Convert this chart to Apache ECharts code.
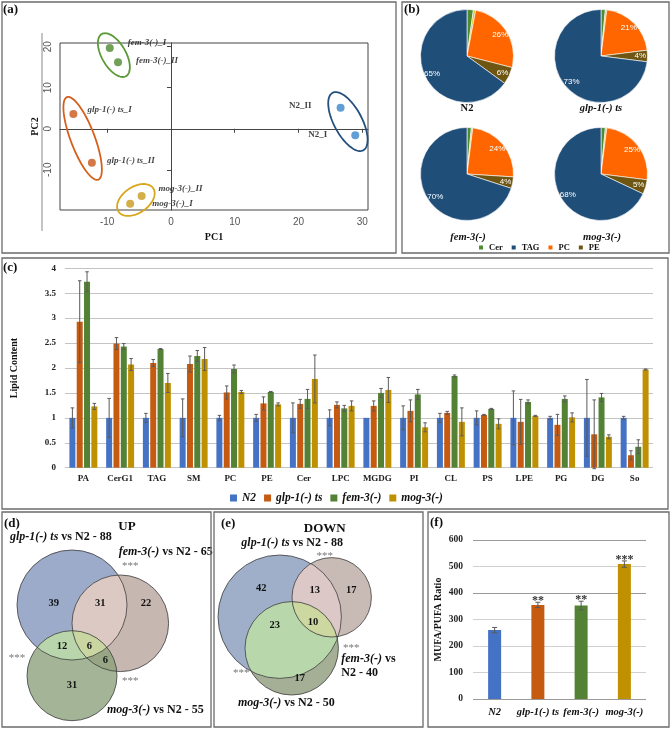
<!DOCTYPE html>
<html><head><meta charset="utf-8">
<script src="https://cdn.jsdelivr.net/npm/echarts@6/dist/echarts.min.js"></script>
<style>html,body{margin:0;padding:0;background:#fff}#c{width:671px;height:729px}</style>
</head><body><div id="c"></div><script>
// ================= DATA =================
// (a) PCA
const pcaNames = ['fem-3(-)_I','fem-3(-)_II','glp-1(-) ts_I','glp-1(-) ts_II','mog-3(-)_II','mog-3(-)_I','N2_II','N2_I'];
const pcaPC1 = [-9.6,-8.3,-15.3,-12.4,-4.6,-6.4,26.6,28.9];
const pcaPC2 = [19.7,16.2,3.6,-8.3,-16.4,-18.3,5.1,-1.6];
const pcaGroup = [0,0,1,1,2,2,3,3]; // fem-3, glp-1, mog-3, N2
const pcaXTicks = [-10,0,10,20,30];
const pcaYTicks = [-10,0,10,20];
// (b) pies
const pieStrains = ['N2','glp-1(-) ts','fem-3(-)','mog-3(-)'];
const pieLegend = ['Cer','TAG','PC','PE'];
const pieCer = [2.2,1.5,1.5,1.5];
const pieOther = [0.8,0.5,0.5,0.5];
const piePC = [26,21,24,25];
const piePE = [6,4,4,5];
const pieTAG = [65,73,70,68];
// (c) lipid content
const lipidClasses = ['PA','CerG1','TAG','SM','PC','PE','Cer','LPC','MGDG','PI','CL','PS','LPE','PG','DG','So'];
const strains = ['N2','glp-1(-) ts','fem-3(-)','mog-3(-)'];
const lipidN2  = [1,1,1,1,1,1,1,1,1,1,1,1,1,1,1,1];
const lipidGlp = [2.93,2.49,2.10,2.08,1.51,1.29,1.28,1.26,1.24,1.14,1.10,1.06,0.92,0.86,0.67,0.25];
const lipidFem = [3.73,2.43,2.38,2.24,1.98,1.52,1.38,1.19,1.50,1.47,1.84,1.18,1.32,1.38,1.41,0.42];
const lipidMog = [1.23,2.07,1.70,2.18,1.52,1.27,1.78,1.24,1.56,0.81,0.92,0.88,1.04,1.01,0.62,1.97];
const errN2  = [0.20,0.39,0.09,0.38,0.05,0.07,0.30,0.16,0,0.24,0.09,0.14,0.54,0.03,0.77,0.03];
const errGlp = [0.82,0.12,0.07,0.16,0.13,0.13,0.09,0.06,0.10,0.22,0.03,0.01,0.45,0.21,0.69,0.09];
const errFem = [0.20,0.06,0.01,0.11,0.08,0.01,0.19,0.06,0.09,0.10,0.02,0.01,0.04,0.06,0.08,0.14];
const errMog = [0.06,0.12,0.19,0.23,0.03,0.03,0.48,0.10,0.25,0.09,0.28,0.10,0.01,0.09,0.04,0.01];
// (d)/(e) Venn
const vennUpSets = ['glp-1(-) ts','fem-3(-)','mog-3(-)'];
const vennUpTotals = [88,65,55];
const vennUpCounts = [39,22,31,31,12,6,6];        // A, B, C, AB, AC, BC, ABC
const vennDownSets = ['glp-1(-) ts','fem-3(-)','mog-3(-)'];
const vennDownTotals = [88,40,50];
const vennDownCounts = [42,17,17,13,23,null,10];
// (f) MUFA/PUFA
const mufaStrains = ['N2','glp-1(-) ts','fem-3(-)','mog-3(-)'];
const mufaRatio = [260,355,353,509];
const mufaErr = [10,10,16,12];
const mufaSig = ['','**','**','***'];

// ================= STYLE / LAYOUT =================
const SERIF = '"Liberation Serif","Times New Roman",serif';
const SANS = '"Liberation Sans",Arial,sans-serif';
const strainColors = ['#4472C4','#C55A11','#548235','#BF9000'];
const pcaPointColors = ['#4e8a2e','#c9561a','#c99a1a','#3a86c8'];
const pcaEllColors = ['#5b9a36','#d4601c','#d9a619','#24507e'];
const pcaLabelPos = [[18,-5],[18,-2],[14,-4],[15,-2],[17,-7],[22,0],[-29,-2],[-28,-1]];
const ellPad = [16,18,14,17], ellMinor = [12,12,13,14];
const pieCenters = [[467,56],[601,56],[467,174],[601,174]];
const pieR = 46.5;
const pieColors = {Cer:'#4d8c32', Other:'#d6c027', PC:'#ff6600', PE:'#6e5612', TAG:'#1f4e79'};
const barW = 6, barGapPx = 1.32;

const chart = echarts.init(document.getElementById('c'), null, {renderer:'canvas', width:671, height:729});

// ---- (a) scatter + ellipses ----
const scatterData = pcaNames.map((n,i)=>({
  name:n, value:[pcaPC1[i], pcaPC2[i]],
  itemStyle:{color:pcaPointColors[pcaGroup[i]]},
  label:{show:true, position: pcaLabelPos[i][0]>0?'right':'left',
    distance: Math.abs(pcaLabelPos[i][0])-4, offset:[0,pcaLabelPos[i][1]],
    formatter:n, fontStyle: n.indexOf('N2')===0?'normal':'italic'}
}));
const ellData = [0,1,2,3].map(g=>{
  const idx = pcaGroup.map((gg,i)=>gg===g?i:-1).filter(i=>i>=0);
  return [pcaPC1[idx[0]], pcaPC2[idx[0]], pcaPC1[idx[1]], pcaPC2[idx[1]]];
});
function ellRender(params, api){
  const g = params.dataIndex;
  const p1 = api.coord([api.value(0), api.value(1)]);
  const p2 = api.coord([api.value(2), api.value(3)]);
  const cx=(p1[0]+p2[0])/2, cy=(p1[1]+p2[1])/2;
  const dx=p2[0]-p1[0], dy=p2[1]-p1[1];
  const ang=Math.atan2(dy,dx), a=Math.hypot(dx,dy)/2+ellPad[g], b=ellMinor[g];
  const pts=[];
  for(let k=0;k<90;k++){const t=k/90*2*Math.PI;const ex=a*Math.cos(t),ey=b*Math.sin(t);
    pts.push([cx+ex*Math.cos(ang)-ey*Math.sin(ang), cy+ex*Math.sin(ang)+ey*Math.cos(ang)]);}
  return {type:'polygon', shape:{points:pts}, style:{fill:'none', stroke:pcaEllColors[g], lineWidth:1.8}};
}

// ---- (b) pies ----
const pieSeries = [];
pieStrains.forEach((s,i)=>{
  const items = [
    {name:'Cer', value:pieCer[i]}, {name:'Other', value:pieOther[i]},
    {name:'PC', value:piePC[i]}, {name:'PE', value:piePE[i]}, {name:'TAG', value:pieTAG[i]}];
  pieSeries.push({type:'pie', name:'pie'+i, center:pieCenters[i], radius:[0,pieR], startAngle:90, clockwise:true,
    silent:true, label:{show:false}, labelLine:{show:false},
    itemStyle:{borderColor:'#ffffff', borderWidth:0.6},
    data: items.map(d=>({name:d.name, value:d.value, itemStyle:{color:pieColors[d.name]}}))});
  pieSeries.push({type:'pie', name:'pieLbl'+i, center:pieCenters[i], radius:[26,pieR], startAngle:90, clockwise:true,
    silent:true, labelLine:{show:false},
    label:{show:true, position:'inside', color:'#ffffff', fontSize:8, fontFamily:SANS,
      formatter:p=>(['PC','PE','TAG'].indexOf(p.name)>=0?Math.round(p.percent)+'%':'')},
    itemStyle:{color:'rgba(0,0,0,0)', borderWidth:0},
    data: items.map(d=>({name:d.name, value:d.value}))});
});

// ---- (c) bars + error bars ----
const lipidVals = [lipidN2, lipidGlp, lipidFem, lipidMog];
const lipidErrs = [errN2, errGlp, errFem, errMog];
function errRenderer(k, n, bw, gap, capW, color, stars){
  return function(params, api){
    const i=api.value(0), v=api.value(1), e=api.value(2);
    const top=api.coord([i, v+e]), bot=api.coord([i, v-e]);
    const x = top[0] + (k-(n-1)/2)*(bw+gap);
    const ch=[];
    if(e>0){
      ch.push({type:'line', shape:{x1:x,y1:top[1],x2:x,y2:bot[1]}, style:{stroke:color,lineWidth:1}});
      ch.push({type:'line', shape:{x1:x-capW/2,y1:top[1],x2:x+capW/2,y2:top[1]}, style:{stroke:color,lineWidth:1}});
      ch.push({type:'line', shape:{x1:x-capW/2,y1:bot[1],x2:x+capW/2,y2:bot[1]}, style:{stroke:color,lineWidth:1}});
    }
    if(stars && stars[params.dataIndex]){
      ch.push({type:'text', style:{text:stars[params.dataIndex], x:x, y:top[1]-1, align:'center', verticalAlign:'middle',
        fontSize:12, fontFamily:SERIF, fontWeight:'bold', fill:'#333'}});
    }
    return {type:'group', children:ch};
  };
}
const barSeries = [];
strains.forEach((s,k)=>{
  barSeries.push({type:'bar', name:s, xAxisIndex:1, yAxisIndex:1, data:lipidVals[k], barWidth:barW, barGap:'22%',
    itemStyle:{color:strainColors[k]}, silent:true});
});
strains.forEach((s,k)=>{
  barSeries.push({type:'custom', name:'err'+k, xAxisIndex:1, yAxisIndex:1, silent:true, z:5,
    encode:{x:0,y:1},
    renderItem: errRenderer(k,4,barW,barGapPx,3.5,'#5a5a5a'),
    data: lipidVals[k].map((v,i)=>[i, v, lipidErrs[k][i]])});
});

// ---- (f) ----
const mufaSeries = [
  {type:'bar', name:'MUFA/PUFA', xAxisIndex:2, yAxisIndex:2, barWidth:13, silent:true,
    data: mufaRatio.map((v,i)=>({value:v, itemStyle:{color:strainColors[i]}}))},
  {type:'custom', name:'mufaErr', xAxisIndex:2, yAxisIndex:2, silent:true, z:5, encode:{x:0,y:1},
    renderItem: errRenderer(0,1,13,0,5,'#5a5a5a', mufaSig),
    data: mufaRatio.map((v,i)=>[i, v, mufaErr[i]])}
];

// ---- Venn helpers ----
function interPoly(circles){
  const pts=[]; const n=400;
  circles.forEach((c,ci)=>{
    for(let k=0;k<n;k++){const t=2*Math.PI*k/n;const x=c[0]+c[2]*Math.cos(t),y=c[1]+c[2]*Math.sin(t);
      if(circles.every((o,oi)=>oi===ci||Math.hypot(x-o[0],y-o[1])<=o[2]+0.01)) pts.push([x,y]);}
  });
  let mx=0,my=0; pts.forEach(p=>{mx+=p[0];my+=p[1];}); mx/=pts.length; my/=pts.length;
  pts.sort((p,q)=>Math.atan2(p[1]-my,p[0]-mx)-Math.atan2(q[1]-my,q[0]-mx));
  return pts;
}
function vennElements(cfg, counts){
  const [A,B,C]=cfg.circles; const col=cfg.colors; const els=[];
  [A,B,C].forEach((c,i)=>els.push({type:'circle', shape:{cx:c[0],cy:c[1],r:c[2]}, style:{fill:col[i]}, z:1}));
  [[A,B],[A,C],[B,C],[A,B,C]].forEach((set,j)=>{
    els.push({type:'polygon', shape:{points:interPoly(set)}, style:{fill:col[3+j]}, z:1});
  });
  [A,B,C].forEach(c=>els.push({type:'circle', shape:{cx:c[0],cy:c[1],r:c[2]}, style:{fill:'none', stroke:'#3c3c3c', lineWidth:0.8}, z:2}));
  counts.forEach((v,i)=>{ if(v==null) return; const p=cfg.countPos[i];
    els.push({type:'text', x:p[0], y:p[1], style:{text:String(v), align:'center', verticalAlign:'middle',
      fontSize:10.5, fontWeight:'bold', fontFamily:SERIF, fill:'#111'}, z:3});});
  cfg.stars.forEach(p=>els.push({type:'text', x:p[0], y:p[1]+3, style:{text:'***', align:'center', verticalAlign:'middle',
      fontSize:11, fontFamily:SERIF, fill:'#777'}, z:3}));
  return els;
}
const richSet = {i:{fontStyle:'italic', fontWeight:'bold', fontSize:12, fontFamily:SERIF, fill:'#111'},
                 b:{fontWeight:'bold', fontSize:12, fontFamily:SERIF, fill:'#111'}};
function setText(x,y,name,tail){
  return {type:'text', x:x, y:y, z:3, style:{text:'{i|'+name+'}{b|'+tail+'}', rich:richSet, align:'left', verticalAlign:'middle'}};
}
const vennColors = ['#9cabc9','#c7b7b1','#a4b597','#dcc9c4','#b9d5ab','#98a686','#cad6a2'];
const vennUpCfg = {circles:[[72,605,55],[120.3,623.3,48.3],[72,675.7,45]], colors:vennColors,
  countPos:[[53.7,603.3],[146,603.3],[72,685],[100.3,603.3],[62,646.7],[105.3,660.7],[89.3,646.7]],
  stars:[[130.3,563.3],[17,655],[130.3,678.3]]};
const vennDownCfg = {circles:[[279.7,616.7,61.7],[331.7,597.3,39.7],[291.7,648.3,46.7]],
  colors:['#9fafc9','#c8bab4','#a5af96','#dcc8c6','#b8d7ab','#99a386','#cdd7a0'],
  countPos:[[261.3,588.3],[351.3,590],[299.7,678.3],[314.7,590],[274.7,625],null,[313,622.7]],
  stars:[[324.7,553.3],[351.3,645],[241.3,670]]};

// ---- graphics ----
const border = (x,y,w,h)=>({type:'rect', shape:{x:x,y:y,width:w,height:h}, style:{fill:'none', stroke:'#6b6b6b', lineWidth:1.3}, z:10});
const ptext = (t,x,y)=>({type:'text', x:x, y:y, z:10, style:{text:t, fontSize:13, fontWeight:'bold', fontFamily:SERIF, fill:'#111', align:'left', verticalAlign:'middle'}});
const capText = (t,x,y,it)=>({type:'text', x:x, y:y, z:10, style:{text:t, fontSize:10.5, fontWeight:'bold', fontStyle:it?'italic':'normal', fontFamily:SERIF, fill:'#111', align:'center', verticalAlign:'middle'}});

const graphics = [
  border(2,2,394,251), border(402,2,267,251), border(2,258,666,251),
  border(2,512,209,215), border(214,512,209,215), border(428,512,241,215),
  ptext('(a)',3,10), ptext('(b)',404,10), ptext('(c)',3,268), ptext('(d)',4,524), ptext('(e)',221,524), ptext('(f)',430,523),
  {type:'line', shape:{x1:42,y1:33,x2:42,y2:231}, style:{stroke:'#8a8a8a', lineWidth:1}, z:10},
  capText(pieStrains[0],467,108,false), capText(pieStrains[1],601,108,true),
  capText(pieStrains[2],468,237,true), capText(pieStrains[3],602,237,true),
  ...vennElements(vennUpCfg, vennUpCounts),
  ...vennElements(vennDownCfg, vennDownCounts),
  setText(10,537,vennUpSets[0],' vs N2 - '+vennUpTotals[0]),
  setText(118.7,551.7,vennUpSets[1],' vs N2 - '+vennUpTotals[1]),
  setText(107,710,vennUpSets[2],' vs N2 - '+vennUpTotals[2]),
  {type:'text', x:127, y:527, z:3, style:{text:'UP', fontSize:13, fontWeight:'bold', fontFamily:SERIF, fill:'#111', align:'center', verticalAlign:'middle'}},
  {type:'text', x:324.7, y:528.3, z:3, style:{text:'DOWN', fontSize:13, fontWeight:'bold', fontFamily:SERIF, fill:'#111', align:'center', verticalAlign:'middle'}},
  setText(241.3,543.3,vennDownSets[0],' vs N2 - '+vennDownTotals[0]),
  setText(341.3,659.3,vennDownSets[1],' vs'),
  {type:'text', x:341.3, y:673.3, z:3, style:{text:'N2 - '+vennDownTotals[1], fontSize:12, fontWeight:'bold', fontFamily:SERIF, fill:'#111', align:'left', verticalAlign:'middle'}},
  setText(238,703.3,vennDownSets[2],' vs N2 - '+vennDownTotals[2])
];

const axisNameStyle = {fontFamily:SERIF, fontWeight:'bold', color:'#111'};
const option = {
  animation:false,
  backgroundColor:'#ffffff',
  grid:[
    {left:60, top:43, width:308, height:167, show:true, borderColor:'#444', borderWidth:1, containLabel:false, outerBoundsMode:'none'},
    {left:65, top:268.3, width:588, height:199.4, containLabel:false, outerBoundsMode:'none'},
    {left:473, top:540, width:173, height:159, containLabel:false, outerBoundsMode:'none'}
  ],
  xAxis:[
    {type:'value', gridIndex:0, min:-17.4, max:30.9,
      axisLine:{show:true, lineStyle:{color:'#444'}}, axisTick:{show:true, customValues:pcaXTicks, length:4, lineStyle:{color:'#444'}},
      axisLabel:{customValues:pcaXTicks, color:'#555', fontSize:10, fontFamily:SANS, margin:7},
      splitLine:{show:false}, name:'PC1', nameLocation:'middle', nameGap:22, nameTextStyle:{...axisNameStyle, fontSize:10}},
    {type:'category', gridIndex:1, data:lipidClasses, axisLine:{show:false}, axisTick:{show:false},
      axisLabel:{fontFamily:SERIF, fontWeight:'bold', fontSize:9, color:'#222', margin:6, interval:0}},
    {type:'category', gridIndex:2, data:mufaStrains, axisLine:{show:false}, axisTick:{show:false},
      axisLabel:{fontFamily:SERIF, fontWeight:'bold', fontStyle:'italic', fontSize:10.5, color:'#111', margin:8, interval:0}}
  ],
  yAxis:[
    {type:'value', gridIndex:0, min:-19.8, max:20.9,
      axisLine:{show:true, lineStyle:{color:'#444'}}, axisTick:{show:true, customValues:pcaYTicks, length:4, lineStyle:{color:'#444'}},
      axisLabel:{customValues:pcaYTicks, color:'#555', fontSize:10, fontFamily:SANS, margin:7, rotate:90},
      splitLine:{show:false}, name:'PC2', nameLocation:'middle', nameGap:20, nameRotate:90, nameTextStyle:{...axisNameStyle, fontSize:10}},
    {type:'value', gridIndex:1, min:0, max:4, interval:0.5, axisLine:{show:false}, axisTick:{show:false},
      axisLabel:{fontFamily:SERIF, fontWeight:'bold', fontSize:9, color:'#222', margin:9},
      splitLine:{show:true, lineStyle:{color:'#c4c4c4', width:1}},
      name:'Lipid Content', nameLocation:'middle', nameGap:46, nameTextStyle:{...axisNameStyle, fontSize:10}},
    {type:'value', gridIndex:2, min:0, max:600, interval:100, axisLine:{show:false}, axisTick:{show:false},
      axisLabel:{fontFamily:SERIF, fontWeight:'bold', fontSize:9.5, color:'#222', margin:10},
      splitLine:{show:true, lineStyle:{color:['#9a9a9a','#d0d0d0','#d0d0d0','#d0d0d0','#9a9a9a','#d0d0d0','#9a9a9a'], width:1}},
      name:'MUFA/PUFA Ratio', nameLocation:'middle', nameGap:30, nameTextStyle:{...axisNameStyle, fontSize:10}}
  ],
  legend:[
    {data:strains, top:492, left:230, padding:0, itemWidth:7, itemHeight:7, itemGap:8, icon:'rect', selectedMode:false,
      textStyle:{fontFamily:SERIF, fontWeight:'bold', fontStyle:'italic', fontSize:11.5, color:'#111'}},
    {data:pieLegend, top:243, left:477, padding:0, itemWidth:6, itemHeight:6, itemGap:7, icon:'rect', selectedMode:false,
      textStyle:{fontFamily:SERIF, fontWeight:'bold', fontSize:8.5, color:'#111'}}
  ],
  series:[
    {type:'custom', name:'ellipses', xAxisIndex:0, yAxisIndex:0, silent:true, clip:false, renderItem:ellRender, data:ellData, z:3},
    {type:'scatter', name:'PCA', xAxisIndex:0, yAxisIndex:0, symbolSize:8, silent:true, data:scatterData, z:4,
      label:{color:'#111', fontFamily:SERIF, fontWeight:'bold', fontSize:9}},
    ...pieSeries, ...barSeries, ...mufaSeries
  ],
  graphic:{elements:graphics}
};
chart.setOption(option);
</script></body></html>
